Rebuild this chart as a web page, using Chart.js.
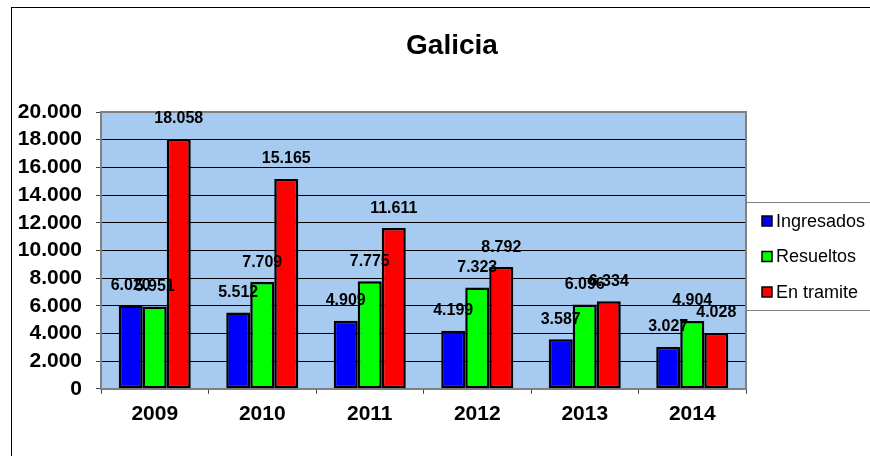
<!DOCTYPE html>
<html>
<head>
<meta charset="utf-8">
<script src="https://cdn.jsdelivr.net/npm/chart.js@4.4.1/dist/chart.umd.min.js"></script>
<style>
  html, body { margin: 0; padding: 0; background: #fff; overflow: hidden; }
  #wrap { width: 870px; height: 456px; overflow: hidden; }
  #wrap canvas { display: block; }
</style>
</head>
<body>
<div id="wrap"><canvas id="galicia_chart" width="904" height="456"></canvas></div>
<script>
const years = ["2009", "2010", "2011", "2012", "2013", "2014"];
const ingresados = [6020, 5512, 4909, 4199, 3587, 3027];
const resueltos = [5951, 7709, 7775, 7323, 6096, 4904];
const enTramite = [18058, 15165, 11611, 8792, 6334, 4028];
const yTickValues = [0, 2000, 4000, 6000, 8000, 10000, 12000, 14000, 16000, 18000, 20000];

const FONT = "'Liberation Sans', Arial, sans-serif";

// 20000 -> "20.000"
function fmt(v) {
  return String(v).replace(/\B(?=(\d{3})+(?!\d))/g, ".");
}

(function () {
  // white page, outer frame and blue plot area
  const plotBackground = {
    id: "plotBackground",
    beforeDraw(chart) {
      const { ctx, chartArea: a } = chart;
      ctx.save();
      ctx.fillStyle = "#fff";
      ctx.fillRect(0, 0, chart.width, chart.height);
      ctx.strokeStyle = "#000";
      ctx.lineWidth = 1;
      ctx.strokeRect(11.5, 7.5, chart.width + 50, chart.height + 50);
      ctx.fillStyle = "#a6caf0";
      ctx.fillRect(a.left, a.top, a.right - a.left, a.bottom - a.top);
      ctx.restore();
    },
    afterDatasetsDraw(chart) {
      const { ctx, chartArea: a } = chart;
      ctx.save();
      ctx.strokeStyle = "#808080";
      ctx.lineWidth = 2;
      ctx.beginPath();
      ctx.moveTo(a.left, a.top);
      ctx.lineTo(a.right, a.top);
      ctx.lineTo(a.right, a.bottom);
      ctx.stroke();
      ctx.restore();
    },
  };

  // value above every bar
  const barValues = {
    id: "barValues",
    afterDatasetsDraw(chart) {
      const ctx = chart.ctx;
      ctx.save();
      ctx.font = "bold 16px " + FONT;
      ctx.fillStyle = "#000";
      ctx.textAlign = "center";
      ctx.textBaseline = "middle";
      chart.data.datasets.forEach((ds, i) => {
        chart.getDatasetMeta(i).data.forEach((bar, j) => {
          ctx.fillText(fmt(ds.data[j]), bar.x, bar.y - 20);
        });
      });
      ctx.restore();
    },
  };

  // boxed legend to the right of the plot
  const sideLegend = {
    id: "sideLegend",
    afterDraw(chart) {
      const { ctx, chartArea: a } = chart;
      const left = a.right;
      const top = a.top + 90;
      const h = 108;
      ctx.save();
      ctx.fillStyle = "#fff";
      ctx.fillRect(left, top, chart.width - left + 10, h);
      ctx.strokeStyle = "#808080";
      ctx.lineWidth = 1;
      ctx.strokeRect(left + 0.5, top + 0.5, chart.width, h);
      ctx.font = "18px " + FONT;
      ctx.textBaseline = "middle";
      chart.data.datasets.forEach((ds, i) => {
        const cy = top + 19 + i * 35.5;
        ctx.fillStyle = ds.backgroundColor;
        ctx.fillRect(left + 16, cy - 5, 10, 10);
        ctx.strokeStyle = "#000";
        ctx.lineWidth = 1.5;
        ctx.strokeRect(left + 16, cy - 5, 10, 10);
        ctx.fillStyle = "#000";
        ctx.fillText(ds.label, left + 30, cy + 1);
      });
      ctx.restore();
    },
  };

  function galiciaChart() {
    const ctx = document.getElementById("galicia_chart").getContext("2d");
    const chart = new Chart(ctx, {
      type: "bar",
      data: {
        labels: years,
        datasets: [
          { label: "Ingresados", data: ingresados, backgroundColor: "#0000ff" },
          { label: "Resueltos", data: resueltos, backgroundColor: "#00ff00" },
          { label: "En tramite", data: enTramite, backgroundColor: "#ff0000" },
        ],
      },
      options: {
        responsive: false,
        animation: false,
        layout: { padding: { left: 0, right: 0, top: 0, bottom: 21 } },
        datasets: {
          bar: {
            categoryPercentage: 0.67,
            barPercentage: 1.0,
            borderColor: "#000",
            borderWidth: 2.5,
            borderSkipped: false,
          },
        },
        plugins: {
          legend: { display: false },
          tooltip: { enabled: false },
          title: {
            display: true,
            text: "Galicia",
            color: "#000",
            font: { family: FONT, size: 28, weight: "bold" },
            padding: { top: 29, bottom: 49.4 },
          },
        },
        scales: {
          x: {
            grid: {
              display: true,
              drawOnChartArea: false,
              drawTicks: true,
              tickLength: 5,
              tickColor: "#404040",
            },
            border: { color: "#808080", width: 2 },
            ticks: {
              color: "#000",
              padding: 8,
              font: { family: FONT, size: 21, weight: "bold" },
            },
          },
          y: {
            min: 0,
            max: 20000,
            afterBuildTicks(scale) {
              scale.ticks = yTickValues.map((v) => ({ value: v }));
            },
            afterFit(scale) {
              scale.width = 101;
            },
            grid: {
              color: "#000",
              lineWidth: 1,
              tickLength: 5,
              tickColor: "#404040",
            },
            border: { color: "#808080", width: 2 },
            ticks: {
              autoSkip: false,
              color: "#000",
              padding: 14,
              font: { family: FONT, size: 21, weight: "bold" },
              callback: (v) => fmt(v),
            },
          },
          // empty axis that only keeps room free for the legend
          y2: {
            position: "right",
            grid: { display: false, drawTicks: false },
            border: { display: false },
            ticks: { display: false },
            afterFit(scale) {
              scale.width = 158;
            },
          },
        },
      },
      plugins: [plotBackground, barValues, sideLegend],
    });
  }
  galiciaChart();
})();
</script>
</body>
</html>
